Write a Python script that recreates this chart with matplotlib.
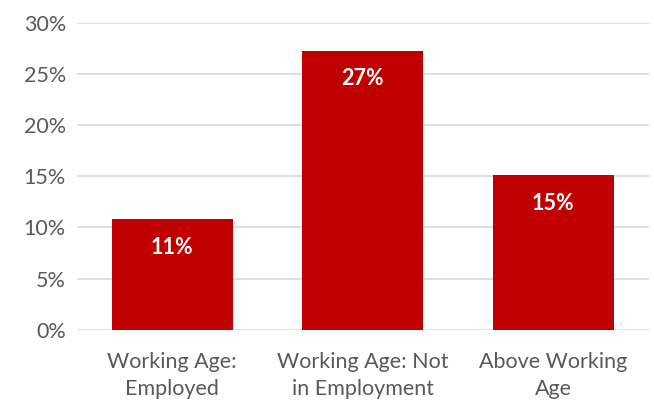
import matplotlib
matplotlib.use("Agg")
import matplotlib.pyplot as plt
from matplotlib.ticker import FuncFormatter, MultipleLocator

categories = ["Working Age:\nEmployed", "Working Age: Not\nin Employment", "Above Working\nAge"]
shares = [10.8, 27.25, 15.1]

plt.rcParams["font.family"] = ["Lato", "DejaVu Sans"]

fig = plt.figure(figsize=(6.54, 4.05), dpi=100)
ax = fig.add_axes([0.1177, 0.186, 0.8739, 0.758])

x = range(len(categories))
bars = ax.bar(x, shares, width=0.635, color="#C00000", zorder=3)

for rect, v in zip(bars, shares):
    ax.annotate(f"{round(v):.0f}%",
                xy=(rect.get_x() + rect.get_width() / 2, v),
                xytext=(0, -28), textcoords="offset pixels",
                ha="center", va="center", color="white",
                fontsize=15.5, fontweight="bold")

ax.set_xlim(-0.5, len(categories) - 0.5)
ax.set_ylim(0, 30)
ax.yaxis.set_major_locator(MultipleLocator(5))
ax.yaxis.set_major_formatter(FuncFormatter(lambda v, _: f"{v:.0f}%"))
ax.grid(axis="y", color="#D9D9D9", linewidth=1.2, zorder=0)

ax.set_xticks(list(x))
ax.set_xticklabels(categories, linespacing=1.45)
ax.tick_params(axis="both", length=0, labelsize=15.5, colors="#595959")
ax.tick_params(axis="x", pad=16)
ax.tick_params(axis="y", pad=8)

for s in ax.spines.values():
    s.set_visible(False)

fig.savefig("out.png", dpi=100)
